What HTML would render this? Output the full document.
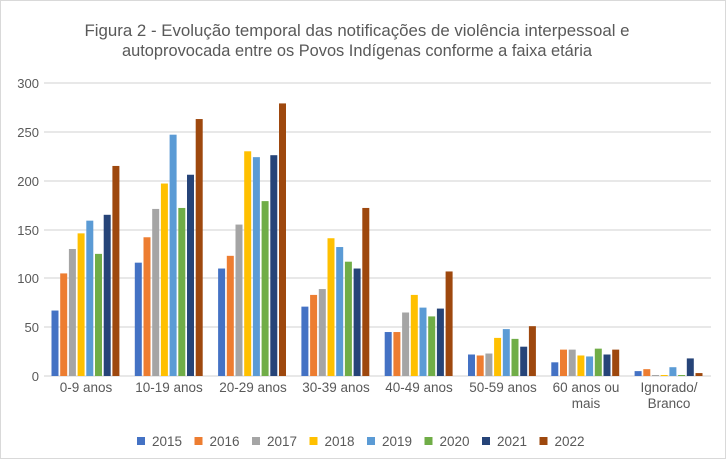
<!DOCTYPE html>
<html><head><meta charset="utf-8"><style>
html,body{margin:0;padding:0;background:#fff}
svg{display:block;font-family:"Liberation Sans",sans-serif}
</style></head><body>
<svg width="726" height="459" viewBox="0 0 726 459" xmlns="http://www.w3.org/2000/svg">
<rect x="0.5" y="0.5" width="725" height="458" fill="#fff" stroke="#d9d9d9"/>
<g fill="#595959" font-size="16.5" text-anchor="middle">
<text x="357" y="36" textLength="545" lengthAdjust="spacingAndGlyphs">Figura 2 - Evolução temporal das notificações de violência interpessoal e</text>
<text x="357" y="56" textLength="470" lengthAdjust="spacingAndGlyphs">autoprovocada entre os Povos Indígenas conforme a faixa etária</text>
</g>
<g stroke="#d9d9d9" stroke-width="1.3">
<line x1="44" x2="711" y1="83" y2="83"/><line x1="44" x2="711" y1="132" y2="132"/>
<line x1="44" x2="711" y1="181" y2="181"/><line x1="44" x2="711" y1="230" y2="230"/>
<line x1="44" x2="711" y1="278" y2="278"/><line x1="44" x2="711" y1="327" y2="327"/>
<line x1="44" x2="711" y1="376" y2="376"/>
</g>
<g fill="#595959" font-size="13" text-anchor="end">
<text x="39" y="88">300</text><text x="39" y="137">250</text><text x="39" y="186">200</text>
<text x="39" y="235">150</text><text x="39" y="283">100</text><text x="39" y="332">50</text><text x="39" y="381">0</text>
</g>
<g transform="translate(0,376) scale(1,-0.977)">
<g transform="translate(51.5,0)">
<rect x="0" width="7" height="67" fill="#4472C4"/><rect x="8.7" width="7" height="105" fill="#ED7D31"/><rect x="17.4" width="7" height="130" fill="#A5A5A5"/><rect x="26.1" width="7" height="146" fill="#FFC000"/><rect x="34.8" width="7" height="159" fill="#5B9BD5"/><rect x="43.5" width="7" height="125" fill="#70AD47"/><rect x="52.2" width="7" height="165" fill="#264478"/><rect x="60.9" width="7" height="215" fill="#9E480E"/>
</g>
<g transform="translate(134.8,0)">
<rect x="0" width="7" height="116" fill="#4472C4"/><rect x="8.7" width="7" height="142" fill="#ED7D31"/><rect x="17.4" width="7" height="171" fill="#A5A5A5"/><rect x="26.1" width="7" height="197" fill="#FFC000"/><rect x="34.8" width="7" height="247" fill="#5B9BD5"/><rect x="43.5" width="7" height="172" fill="#70AD47"/><rect x="52.2" width="7" height="206" fill="#264478"/><rect x="60.9" width="7" height="263" fill="#9E480E"/>
</g>
<g transform="translate(218.1,0)">
<rect x="0" width="7" height="110" fill="#4472C4"/><rect x="8.7" width="7" height="123" fill="#ED7D31"/><rect x="17.4" width="7" height="155" fill="#A5A5A5"/><rect x="26.1" width="7" height="230" fill="#FFC000"/><rect x="34.8" width="7" height="224" fill="#5B9BD5"/><rect x="43.5" width="7" height="179" fill="#70AD47"/><rect x="52.2" width="7" height="226" fill="#264478"/><rect x="60.9" width="7" height="279" fill="#9E480E"/>
</g>
<g transform="translate(301.4,0)">
<rect x="0" width="7" height="71" fill="#4472C4"/><rect x="8.7" width="7" height="83" fill="#ED7D31"/><rect x="17.4" width="7" height="89" fill="#A5A5A5"/><rect x="26.1" width="7" height="141" fill="#FFC000"/><rect x="34.8" width="7" height="132" fill="#5B9BD5"/><rect x="43.5" width="7" height="117" fill="#70AD47"/><rect x="52.2" width="7" height="110" fill="#264478"/><rect x="60.9" width="7" height="172" fill="#9E480E"/>
</g>
<g transform="translate(384.7,0)">
<rect x="0" width="7" height="45" fill="#4472C4"/><rect x="8.7" width="7" height="45" fill="#ED7D31"/><rect x="17.4" width="7" height="65" fill="#A5A5A5"/><rect x="26.1" width="7" height="83" fill="#FFC000"/><rect x="34.8" width="7" height="70" fill="#5B9BD5"/><rect x="43.5" width="7" height="61" fill="#70AD47"/><rect x="52.2" width="7" height="69" fill="#264478"/><rect x="60.9" width="7" height="107" fill="#9E480E"/>
</g>
<g transform="translate(468,0)">
<rect x="0" width="7" height="22" fill="#4472C4"/><rect x="8.7" width="7" height="21" fill="#ED7D31"/><rect x="17.4" width="7" height="23" fill="#A5A5A5"/><rect x="26.1" width="7" height="39" fill="#FFC000"/><rect x="34.8" width="7" height="48" fill="#5B9BD5"/><rect x="43.5" width="7" height="38" fill="#70AD47"/><rect x="52.2" width="7" height="30" fill="#264478"/><rect x="60.9" width="7" height="51" fill="#9E480E"/>
</g>
<g transform="translate(551.3,0)">
<rect x="0" width="7" height="14" fill="#4472C4"/><rect x="8.7" width="7" height="27" fill="#ED7D31"/><rect x="17.4" width="7" height="27" fill="#A5A5A5"/><rect x="26.1" width="7" height="21" fill="#FFC000"/><rect x="34.8" width="7" height="20" fill="#5B9BD5"/><rect x="43.5" width="7" height="28" fill="#70AD47"/><rect x="52.2" width="7" height="22" fill="#264478"/><rect x="60.9" width="7" height="27" fill="#9E480E"/>
</g>
<g transform="translate(634.6,0)">
<rect x="0" width="7" height="5" fill="#4472C4"/><rect x="8.7" width="7" height="7" fill="#ED7D31"/><rect x="17.4" width="7" height="1" fill="#A5A5A5"/><rect x="26.1" width="7" height="1" fill="#FFC000"/><rect x="34.8" width="7" height="9" fill="#5B9BD5"/><rect x="43.5" width="7" height="1" fill="#70AD47"/><rect x="52.2" width="7" height="18" fill="#264478"/><rect x="60.9" width="7" height="3" fill="#9E480E"/>
</g>
</g>
<g fill="#595959" font-size="13.5" text-anchor="middle">
<text x="86" y="392">0-9 anos</text>
<text x="169" y="392">10-19 anos</text>
<text x="253" y="392">20-29 anos</text>
<text x="336" y="392">30-39 anos</text>
<text x="419" y="392">40-49 anos</text>
<text x="503" y="392">50-59 anos</text>
<text x="586" y="392">60 anos ou</text><text x="586" y="408">mais</text>
<text x="669" y="392">Ignorado/</text><text x="669" y="408">Branco</text>
</g>
<g font-size="13.5" fill="#595959">
<rect x="137" y="437" width="8" height="8" fill="#4472C4"/><text x="152" y="446">2015</text>
<rect x="194.5" y="437" width="8" height="8" fill="#ED7D31"/><text x="209.5" y="446">2016</text>
<rect x="252" y="437" width="8" height="8" fill="#A5A5A5"/><text x="267" y="446">2017</text>
<rect x="309.5" y="437" width="8" height="8" fill="#FFC000"/><text x="324.5" y="446">2018</text>
<rect x="367" y="437" width="8" height="8" fill="#5B9BD5"/><text x="382" y="446">2019</text>
<rect x="424.5" y="437" width="8" height="8" fill="#70AD47"/><text x="439.5" y="446">2020</text>
<rect x="482" y="437" width="8" height="8" fill="#264478"/><text x="497" y="446">2021</text>
<rect x="539.5" y="437" width="8" height="8" fill="#9E480E"/><text x="554.5" y="446">2022</text>
</g>
</svg>
</body></html>
